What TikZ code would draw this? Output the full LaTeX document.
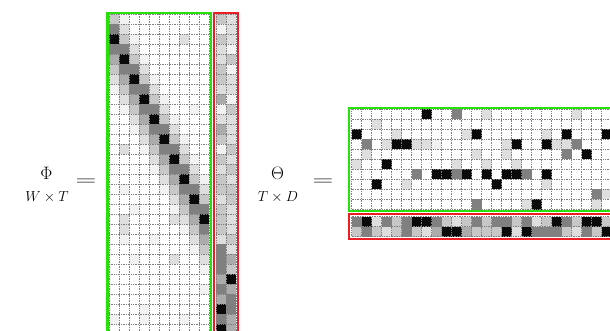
\RequirePackage{fix-cm}
\documentclass[tikz,border=0pt]{standalone}
\usepackage{graphicx}
\definecolor{boxgreen}{RGB}{40,225,10}
\definecolor{boxred}{RGB}{235,30,36}
\begin{document}
\begin{tikzpicture}[x=1pt,y=-1pt,
  g0/.style={fill=white},
  g1/.style={fill=black!5},
  g2/.style={fill=black!13},
  g3/.style={fill=black!22},
  g4/.style={fill=black!33},
  g5/.style={fill=black!50},
  g6/.style={fill=black!96},
  gridln/.style={black!50, densely dotted, line width=0.7pt},
  greenbox/.style={draw=boxgreen, line width=2.2pt},
  redbox/.style={draw=boxred, line width=2.2pt},
  bigsym/.style={font=\fontsize{18}{20}\selectfont, anchor=base, inner sep=0pt},
  subsym/.style={font=\fontsize{14.5}{17}\selectfont, anchor=base, inner sep=0pt}]
\useasboundingbox (0,0) rectangle (610,331);
\begin{scope}
\clip (0,0) rectangle (610,331);
% ---------- Phi : topic columns ----------
\foreach \k in {0,...,9}{
  \foreach \o/\v in {-4/1,-3/2,-2/3,-1/5,0/6,1/5,2/4,3/3,4/2,5/1}{
    \pgfmathtruncatemacro\rr{2*\k+2+\o}
    \ifnum\rr>-1
      \fill[g\v] ({109+10*\k},{14+10*\rr}) rectangle ++(10,10);
    \fi
  }
}
\foreach \rr/\k/\v in {2/7/2,9/8/1,13/1/2,17/1/1,19/2/1,20/1/2,20/6/2,21/1/2,22/1/1,22/4/1,24/2/1,24/6/2,27/9/1,29/3/1,30/0/1,30/3/1,30/7/1}{
  \fill[g\v] ({109+10*\k},{14+10*\rr}) rectangle ++(10,10);
}
% Phi : background columns
\foreach \a/\b [count=\i from 0] in {3/2,1/2,3/2,2/1,2/3,3/1,3/2,2/2,4/1,1/3,2/2,4/2,3/2,1/3,3/2,2/3,3/2,3/3,2/3,3/2,3/2,3/2,2/3,5/2,5/4,5/3,4/6,5/4,4/5,6/5,5/4,6/4}{
  \fill[g\a] (216,{14+10*\i}) rectangle ++(10,10);
  \fill[g\b] (226,{14+10*\i}) rectangle ++(10,10);
}
% Phi grid
\foreach \i in {0,...,10} \draw[gridln] ({109+10*\i},14) -- ++(0,330);
\foreach \j in {0,...,32} \draw[gridln] (109,{14+10*\j}) -- ++(100,0);
\foreach \i in {0,1,2} \draw[gridln] ({216+10*\i},14) -- ++(0,330);
\foreach \j in {0,...,32} \draw[gridln] (216,{14+10*\j}) -- ++(20,0);
% ---------- Theta : topic rows ----------
\foreach \r/\lst in {
  0/{7/6,10/5,13/2,22/2},
  1/{2/2},
  2/{0/6,4/2,11/2,12/6,19/2,21/6,25/6},
  3/{1/5,3/2,4/6,5/6,6/2,7/2,8/1,15/2,16/6,19/6,20/2,21/2,22/5},
  4/{1/2,12/2,15/2,21/5,23/6},
  5/{0/2,3/6,10/2,13/2,16/2},
  6/{6/5,8/6,9/6,10/5,11/6,13/6,15/6,16/6,17/5,19/6},
  7/{2/6,5/2,14/6,19/2},
  8/{24/5,25/2},
  9/{12/5,17/2,18/6,24/2}}{
  \foreach \c/\v in \lst{
    \fill[g\v] ({351.5+10*\c},{109.5+10*\r}) rectangle ++(10,10);
  }
}
% Theta : background rows
\foreach \a/\b [count=\i from 0] in {5/3,6/5,2/3,5/2,3/3,5/5,6/3,6/2,5/4,3/6,2/6,3/4,5/3,3/3,5/3,5/6,3/2,5/6,2/5,3/5,6/5,5/3,3/2,6/5,6/3,3/6}{
  \fill[g\a] ({351.5+10*\i},216.5) rectangle ++(10,10);
  \fill[g\b] ({351.5+10*\i},226.5) rectangle ++(10,10);
}
% Theta grid
\foreach \i in {0,...,26} \draw[gridln] ({351.5+10*\i},109.5) -- ++(0,100);
\foreach \j in {0,...,10} \draw[gridln] (351.5,{109.5+10*\j}) -- ++(270,0);
\foreach \i in {0,...,26} \draw[gridln] ({351.5+10*\i},216.5) -- ++(0,20);
\foreach \j in {0,1,2} \draw[gridln] (351.5,{216.5+10*\j}) -- ++(270,0);
% ---------- frames ----------
\draw[greenbox] (107.5,12.8) rectangle (211.3,345);
\draw[redbox] (214,12.8) rectangle (238,345);
\draw[greenbox] (349.3,107.7) rectangle (625,210.8);
\draw[redbox] (349.3,214) rectangle (625,239.3);
\end{scope}
% ---------- labels ----------
\node[bigsym] (phi) at (46.5,179) {$\Phi$};
\node[subsym] (phisub) at (47,201) {$W\times T$};
\node[bigsym] (eqa) at (86,185.5) {\scalebox{1.6}[1]{$=$}};
\node[bigsym] (theta) at (277.5,179) {$\Theta$};
\node[subsym] (thetasub) at (278,201) {$T\times D$};
\node[bigsym] (eqb) at (323,185.5) {\scalebox{1.6}[1]{$=$}};
\end{tikzpicture}
\end{document}
